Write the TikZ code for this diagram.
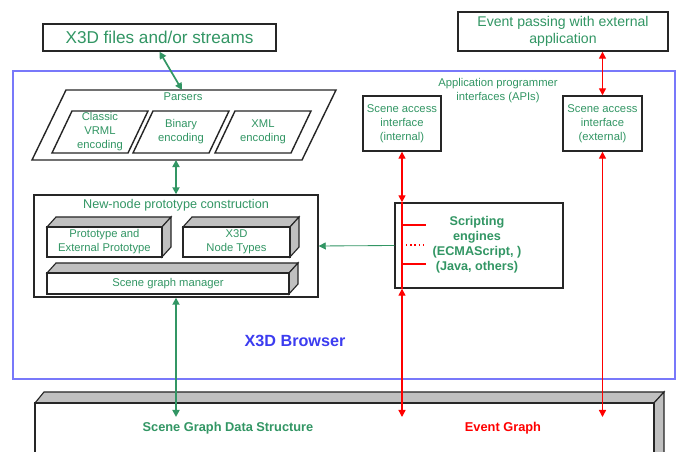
\documentclass[tikz,border=0pt]{standalone}
\usepackage{fontspec}
\setmainfont{Liberation Sans}
\usetikzlibrary{arrows.meta}

\definecolor{apiGreen}{RGB}{50,150,100}
\definecolor{browserBlue}{RGB}{120,120,250}
\definecolor{browserText}{RGB}{60,60,240}
\definecolor{slabGray}{RGB}{192,192,192}

\def\slabDepthX{9}
\def\slabDepthY{10}

\tikzset{
  >={Triangle[length=5pt,width=5pt]},
  panel/.style={draw=black!85, line width=1pt, fill=white, inner sep=0pt},
  panel size/.style 2 args={minimum width=#1*0.025cm, minimum height=#2*0.025cm},
  txt/.style={text=apiGreen, align=center, font=\fontsize{8}{10}\selectfont, inner sep=0pt},
  greenlink/.style={apiGreen, line width=1.2pt},
  redlink/.style={red, line width=1pt},
}

\begin{document}
\begin{tikzpicture}[x=0.025cm, y=-0.025cm]
            \clip (0,0) rectangle (680,452);
            \fill [white] (0,0) rectangle (680,452);
            %% outside the browser
            \node [panel, panel size={233}{27}, txt, font=\fontsize{12.2}{14}\selectfont]
            (files) at (159.5,37.5) {X3D files and/or streams};
            \node [panel, panel size={210}{39}, txt, font=\fontsize{10}{12}\selectfont]
            (event) at (563,31.5) {Event passing with external\\application};
            %% browser frame
            \draw [browserBlue, line width=1.5pt] (13,71) rectangle (675,379);
            \node [text=browserText, font=\fontsize{11.5}{13}\selectfont\bfseries]
            (browser) at (295,341) {X3D Browser};
            %% parsers
            \draw [panel] (66,90) -- (336,90) -- (302,160) -- (32,160) -- cycle;
            \node [txt] (parsers) at (183,97) {Parsers};
            \coordinate (parsersTop) at (182,90);
            \coordinate (parsersBot) at (176,160);
            \foreach \name/\xa/\lines in {classic/72/{Classic\\VRML\\encoding},
                binary/153/{Binary\\encoding}, xml/235/{XML\\encoding}} {
                \draw [panel]
                (\xa,111) -- ++(76,0) -- ++(-20,42) -- ++(-76,0) -- cycle
                ;
                \node [txt] (\name) at ({\xa+28},132) {\lines};
            }
            %% new-node prototype construction
            \node [panel, panel size={284}{102}] (newnode) at (176,246) {};
            \node [txt, font=\fontsize{9}{11}\selectfont] (newnodeTitle) at (176,205)
            {New-node prototype construction};
            \foreach \name/\xa/\ya/\xb/\yb/\lines in {
                proto/47/227/162/257/{Prototype and\\External Prototype},
                nodetypes/183/227/290/257/{X3D\\Node Types},
                manager/47/273/289/294/{Scene graph manager}} {
                \filldraw [fill=slabGray, draw=black!85, line width=0.8pt]
                (\xa,\ya) -- ++(\slabDepthX,-\slabDepthY)
                -- ({\xb+\slabDepthX},{\ya-\slabDepthY}) -- (\xb,\ya) -- cycle
                ;
                \filldraw [fill=slabGray, draw=black!85, line width=0.8pt]
                (\xb,\ya) -- ++(\slabDepthX,-\slabDepthY)
                -- ({\xb+\slabDepthX},{\yb-\slabDepthY}) -- (\xb,\yb) -- cycle
                ;
                \draw [panel] (\xa,\ya) rectangle (\xb,\yb);
                \node [txt] (\name) at ({(\xa+\xb)/2},{(\ya+\yb)/2}) {\lines};
            }
            %% APIs
            \node [txt] (apis) at (498,91) {Application programmer\\interfaces (APIs)};
            \node [panel, panel size={78}{55}, txt] (saiInt) at (402,123.5)
            {Scene access\\interface\\(internal)};
            \node [panel, panel size={79}{55}, txt] (saiExt) at (602.5,123.5)
            {Scene access\\interface\\(external)};
            \node [panel, panel size={168}{85}] (scripting) at (479,245.5) {};
            \node [txt, font=\fontsize{9}{10.7}\selectfont\bfseries] (scriptingText) at (477,245)
            {Scripting\\engines\\(ECMAScript, )\\(Java, others)};
            %% data structure slab
            \filldraw [fill=slabGray, draw=black!85, line width=0.8pt]
            (35,403) -- (44,392) -- (664,392) -- (654,403) -- cycle
            ;
            \filldraw [fill=slabGray, draw=black!85, line width=0.8pt]
            (654,403) -- (664,392) -- (664,470) -- (654,470) -- cycle
            ;
            \draw [panel] (35,403) rectangle (654,470);
            \node [txt, font=\fontsize{9.1}{10}\selectfont\bfseries] (sgds) at (228,428)
            {Scene Graph Data Structure};
            \node [txt, text=red, font=\fontsize{9.1}{10}\selectfont\bfseries] (eventGraph) at (503,428)
            {Event Graph};
            \coordinate (sgdsTop) at (176,417);
            \coordinate (intEnd) at (402,417);
            \coordinate (extEnd) at (602.5,417);
            %% connectors
            \draw [greenlink, <->] (files.south) -- (parsersTop);
            \draw [greenlink, <->] (parsersBot) -- (newnode.north);
            \draw [greenlink, <->] (newnode.south) -- (sgdsTop);
            \draw [apiGreen, semithick, ->] (scripting.west) -- (newnode.east);
            \draw [redlink, <->] (event.south -| saiExt) -- (saiExt.north);
            \draw [redlink, <->] (saiExt.south) -- (extEnd);
            \draw [redlink, <->] (saiInt.south) -- (saiInt.south |- scripting.north);
            \draw [redlink] (saiInt.south |- scripting.north) -- (saiInt.south |- scripting.south);
            \draw [redlink, <->] (saiInt.south |- scripting.south) -- (intEnd);
            \draw [redlink] (402,225) -- (426,225);
            \draw [redlink] (402,264) -- (426,264);
            \draw [redlink, dotted] (406,245) -- (426,245);
\end{tikzpicture}
\end{document}
